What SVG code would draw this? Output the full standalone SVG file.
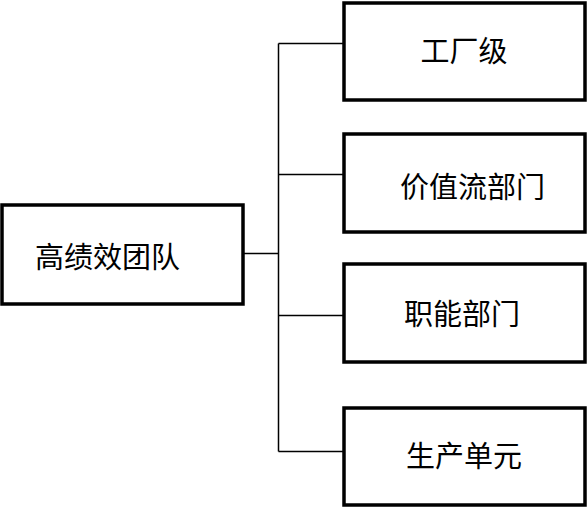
<svg xmlns="http://www.w3.org/2000/svg" width="588" height="508" viewBox="0 0 588 508">
<style>
.box{fill:#fff;stroke:#000;stroke-width:3.5}
.lbl{font-family:"Liberation Serif","Noto Sans CJK SC",serif;font-size:29px;fill:#000}
.ln{fill:none;stroke:#000;stroke-width:1.5}
</style>
<rect width="588" height="508" fill="#fff"/>
<g id="connectors">
<path class="ln" d="M243,253.5 H278.5 M278.5,43.5 V451.5 M278.5,43.5 H343 M278.5,174.5 H343 M278.5,315.5 H343 M278.5,451.5 H343"/>
</g>
<g id="root">
<rect class="box" x="2" y="205" width="241" height="99"/>
<text class="lbl" x="35" y="268">高绩效团队</text>
</g>
<g id="n1">
<rect class="box" x="344" y="3" width="241" height="97"/>
<text class="lbl" x="464" y="62" text-anchor="middle">工厂级</text>
</g>
<g id="n2">
<rect class="box" x="344" y="134" width="241" height="98"/>
<text class="lbl" x="400" y="198">价值流部门</text>
</g>
<g id="n3">
<rect class="box" x="344" y="264" width="241" height="98"/>
<text class="lbl" x="462" y="325" text-anchor="middle">职能部门</text>
</g>
<g id="n4">
<rect class="box" x="344" y="408" width="241" height="97"/>
<text class="lbl" x="464" y="467" text-anchor="middle">生产单元</text>
</g>
</svg>
